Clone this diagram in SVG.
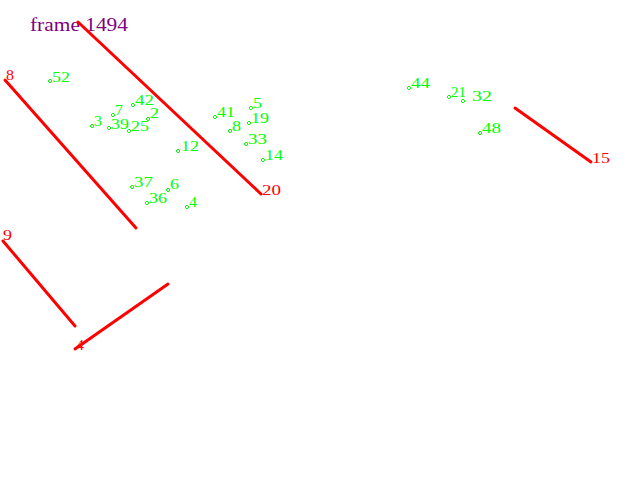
<svg xmlns="http://www.w3.org/2000/svg" xmlns:xlink="http://www.w3.org/1999/xlink" width="640" height="480" viewBox="0 0 640 480">
<style>
.trk{stroke:#ff0000;stroke-width:3;stroke-linecap:round;fill:none}
.rl{fill:#ff0000;font-family:"Liberation Serif",serif;font-size:15px}
.gl{fill:#00ff00;font-family:"Liberation Serif",serif;font-size:15px}
.ttl{fill:#800080;font-family:"Liberation Serif",serif;font-size:18px}
</style>
<defs>
<path id="dm" d="M-2,0 L0,-2 L2,0 L0,2Z" fill="none" stroke="#00ff00" stroke-width="1"/>
</defs>
<rect width="640" height="480" fill="#ffffff"/>
<text class="ttl" x="30" y="31" textLength="98" lengthAdjust="spacingAndGlyphs">frame 1494</text>
<g id="connectors">
<line class="trk" x1="78" y1="22" x2="261" y2="194"/>
<line class="trk" x1="5" y1="80" x2="136" y2="228"/>
<line class="trk" x1="3" y1="241" x2="75" y2="326"/>
<line class="trk" x1="168" y1="284" x2="75" y2="349"/>
<line class="trk" x1="515" y1="108" x2="591" y2="162"/>
</g>
<g id="t20"><text class="rl" x="262" y="195" textLength="19" lengthAdjust="spacingAndGlyphs">20</text></g>
<g id="t8"><text class="rl" x="6" y="80" textLength="8" lengthAdjust="spacingAndGlyphs">8</text></g>
<g id="t9"><text class="rl" x="3" y="240" textLength="9" lengthAdjust="spacingAndGlyphs">9</text></g>
<g id="t4"><text class="rl" x="76" y="350" textLength="8" lengthAdjust="spacingAndGlyphs">4</text></g>
<g id="t15"><text class="rl" x="592" y="163" textLength="18" lengthAdjust="spacingAndGlyphs">15</text></g>
<g id="p52"><use xlink:href="#dm" x="50" y="81"/><text class="gl" x="52" y="82" textLength="18" lengthAdjust="spacingAndGlyphs">52</text></g>
<g id="p3"><use xlink:href="#dm" x="92" y="126"/><text class="gl" x="94" y="126" textLength="8" lengthAdjust="spacingAndGlyphs">3</text></g>
<g id="p7"><use xlink:href="#dm" x="113" y="115"/><text class="gl" x="115" y="115" textLength="8" lengthAdjust="spacingAndGlyphs">7</text></g>
<g id="p42"><use xlink:href="#dm" x="133" y="105"/><text class="gl" x="135" y="105" textLength="19" lengthAdjust="spacingAndGlyphs">42</text></g>
<g id="p2"><use xlink:href="#dm" x="148" y="119"/><text class="gl" x="150" y="118" textLength="9" lengthAdjust="spacingAndGlyphs">2</text></g>
<g id="p39"><use xlink:href="#dm" x="109" y="128"/><text class="gl" x="111" y="129" textLength="18" lengthAdjust="spacingAndGlyphs">39</text></g>
<g id="p25"><use xlink:href="#dm" x="129" y="131"/><text class="gl" x="131" y="131" textLength="18" lengthAdjust="spacingAndGlyphs">25</text></g>
<g id="p12"><use xlink:href="#dm" x="178" y="151"/><text class="gl" x="181" y="151" textLength="18" lengthAdjust="spacingAndGlyphs">12</text></g>
<g id="p37"><use xlink:href="#dm" x="132" y="187"/><text class="gl" x="134" y="187" textLength="19" lengthAdjust="spacingAndGlyphs">37</text></g>
<g id="p6"><use xlink:href="#dm" x="168" y="190"/><text class="gl" x="170" y="189" textLength="9" lengthAdjust="spacingAndGlyphs">6</text></g>
<g id="p36"><use xlink:href="#dm" x="147" y="203"/><text class="gl" x="149" y="203" textLength="18" lengthAdjust="spacingAndGlyphs">36</text></g>
<g id="p4"><use xlink:href="#dm" x="187" y="207"/><text class="gl" x="189" y="207" textLength="8" lengthAdjust="spacingAndGlyphs">4</text></g>
<g id="p41"><use xlink:href="#dm" x="215" y="117"/><text class="gl" x="217" y="117" textLength="18" lengthAdjust="spacingAndGlyphs">41</text></g>
<g id="p5"><use xlink:href="#dm" x="251" y="108"/><text class="gl" x="253" y="108" textLength="9" lengthAdjust="spacingAndGlyphs">5</text></g>
<g id="p19"><use xlink:href="#dm" x="249" y="123"/><text class="gl" x="251" y="123" textLength="18" lengthAdjust="spacingAndGlyphs">19</text></g>
<g id="p8"><use xlink:href="#dm" x="230" y="131"/><text class="gl" x="232" y="131" textLength="9" lengthAdjust="spacingAndGlyphs">8</text></g>
<g id="p33"><use xlink:href="#dm" x="246" y="144"/><text class="gl" x="248" y="144" textLength="19" lengthAdjust="spacingAndGlyphs">33</text></g>
<g id="p14"><use xlink:href="#dm" x="263" y="160"/><text class="gl" x="265" y="160" textLength="18" lengthAdjust="spacingAndGlyphs">14</text></g>
<g id="p44"><use xlink:href="#dm" x="409" y="88"/><text class="gl" x="411" y="88" textLength="19" lengthAdjust="spacingAndGlyphs">44</text></g>
<g id="p21"><use xlink:href="#dm" x="449" y="97"/><text class="gl" x="451" y="97" textLength="15" lengthAdjust="spacingAndGlyphs">21</text></g>
<g id="p32"><use xlink:href="#dm" x="463" y="101"/><text class="gl" x="472" y="101" textLength="20" lengthAdjust="spacingAndGlyphs">32</text></g>
<g id="p48"><use xlink:href="#dm" x="480" y="133"/><text class="gl" x="482" y="133" textLength="19" lengthAdjust="spacingAndGlyphs">48</text></g>
</svg>
